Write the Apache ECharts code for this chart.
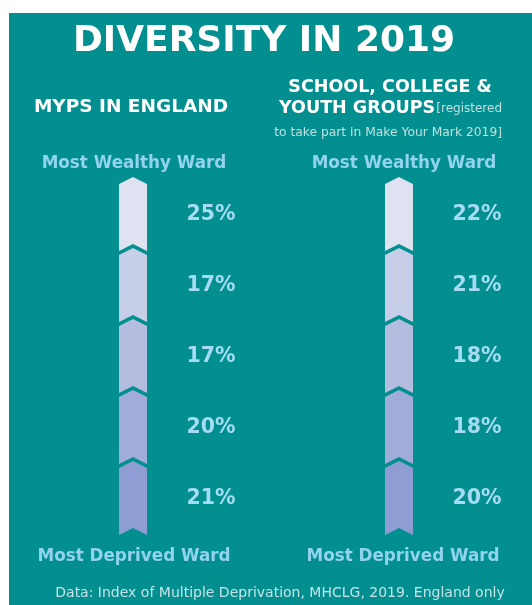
<!DOCTYPE html>
<html><head><meta charset="utf-8">
<script src="https://cdn.jsdelivr.net/npm/echarts@6/dist/echarts.min.js"></script>
<style>html,body{margin:0;padding:0;background:#fff}#c{width:532px;height:605px}</style>
</head><body><div id="c"></div>
<script>
// ---- data ----
const groups = ['MYPs in England', 'School, college & youth groups'];
const quintiles = ['Most wealthy ward quintile', 'Quintile 2', 'Quintile 3', 'Quintile 4', 'Most deprived ward quintile'];
const mypsShare = [25, 17, 17, 20, 21];
const groupShare = [22, 21, 18, 18, 20];
const topLabel = 'Most Wealthy Ward';
const bottomLabel = 'Most Deprived Ward';

// ---- styles ----
const quintileColors = ['#dfe3f1', '#c7cee7', '#b4bcdf', '#a1acd9', '#8e9dd3'];
const teal = '#038f8f';
const labelBlue = '#92d3ef';
const pctBlue = '#a6dcf2';
const FF = '"DejaVu Sans", Verdana, sans-serif';

const seriesData = [];
[mypsShare, groupShare].forEach((arr, gi) => {
  arr.forEach((v, qi) => seriesData.push([gi, qi, v]));
});

function renderItem(params, api) {
  const gi = api.value(0), qi = api.value(1), v = api.value(2);
  const c = api.coord([gi, qi]);
  const s = api.size([1, 1]);
  const h = s[1];
  const hw = 14, d = 7;
  const b = c[1] - h / 2;
  const tip = b - 2;
  const L = h + 3;
  const cx = c[0];
  return {
    type: 'group',
    children: [
      {
        type: 'polygon',
        shape: { points: [[cx, tip], [cx + hw, tip + d], [cx + hw, tip + L], [cx, tip + L - d], [cx - hw, tip + L], [cx - hw, tip + d]] },
        style: { fill: quintileColors[qi] }
      },
      {
        type: 'text',
        x: cx + 78, y: c[1],
        style: { text: v + '%', fill: pctBlue, font: 'bold 20.5px ' + FF, align: 'center', verticalAlign: 'middle' }
      }
    ]
  };
}

function txt(x, y, text, fill, font, align) {
  return { type: 'text', x: x, y: y, z: 5,
    style: { text: text, fill: fill, font: font, align: align || 'center', verticalAlign: 'middle' } };
}

const chart = echarts.init(document.getElementById('c'), null, { renderer: 'canvas' });
chart.setOption({
  backgroundColor: '#ffffff',
  animation: false,
  grid: { left: 0, width: 541, top: 179, height: 355 },
  xAxis: { type: 'category', data: groups, show: false },
  yAxis: { type: 'category', data: quintiles, inverse: true, show: false },
  graphic: [
    { type: 'rect', z: -10, shape: { x: 9, y: 13, width: 523, height: 592 }, style: { fill: teal } },
    txt(264, 42, 'DIVERSITY IN 2019', '#ffffff', 'bold 36px ' + FF),
    txt(131, 107, 'MYPS IN ENGLAND', '#ffffff', 'bold 18.5px ' + FF),
    txt(390, 87, 'SCHOOL, COLLEGE &', '#ffffff', 'bold 17.5px ' + FF),
    txt(279, 108, 'YOUTH GROUPS', '#ffffff', 'bold 17.5px ' + FF, 'left'),
    txt(502, 109, '[registered', '#bde0e0', '12px ' + FF, 'right'),
    txt(502, 133, 'to take part in Make Your Mark 2019]', '#bde0e0', '12.3px ' + FF, 'right'),
    txt(134, 164, topLabel, labelBlue, 'bold 16.8px ' + FF),
    txt(404, 164, topLabel, labelBlue, 'bold 16.8px ' + FF),
    txt(134, 557, bottomLabel, labelBlue, 'bold 16.8px ' + FF),
    txt(403, 557, bottomLabel, labelBlue, 'bold 16.8px ' + FF),
    txt(280, 593, 'Data: Index of Multiple Deprivation, MHCLG, 2019. England only', '#c4e3e8', '14px ' + FF)
  ],
  series: [{
    type: 'custom',
    renderItem: renderItem,
    data: seriesData,
    encode: { x: 0, y: 1 }
  }]
});
</script>
</body></html>
